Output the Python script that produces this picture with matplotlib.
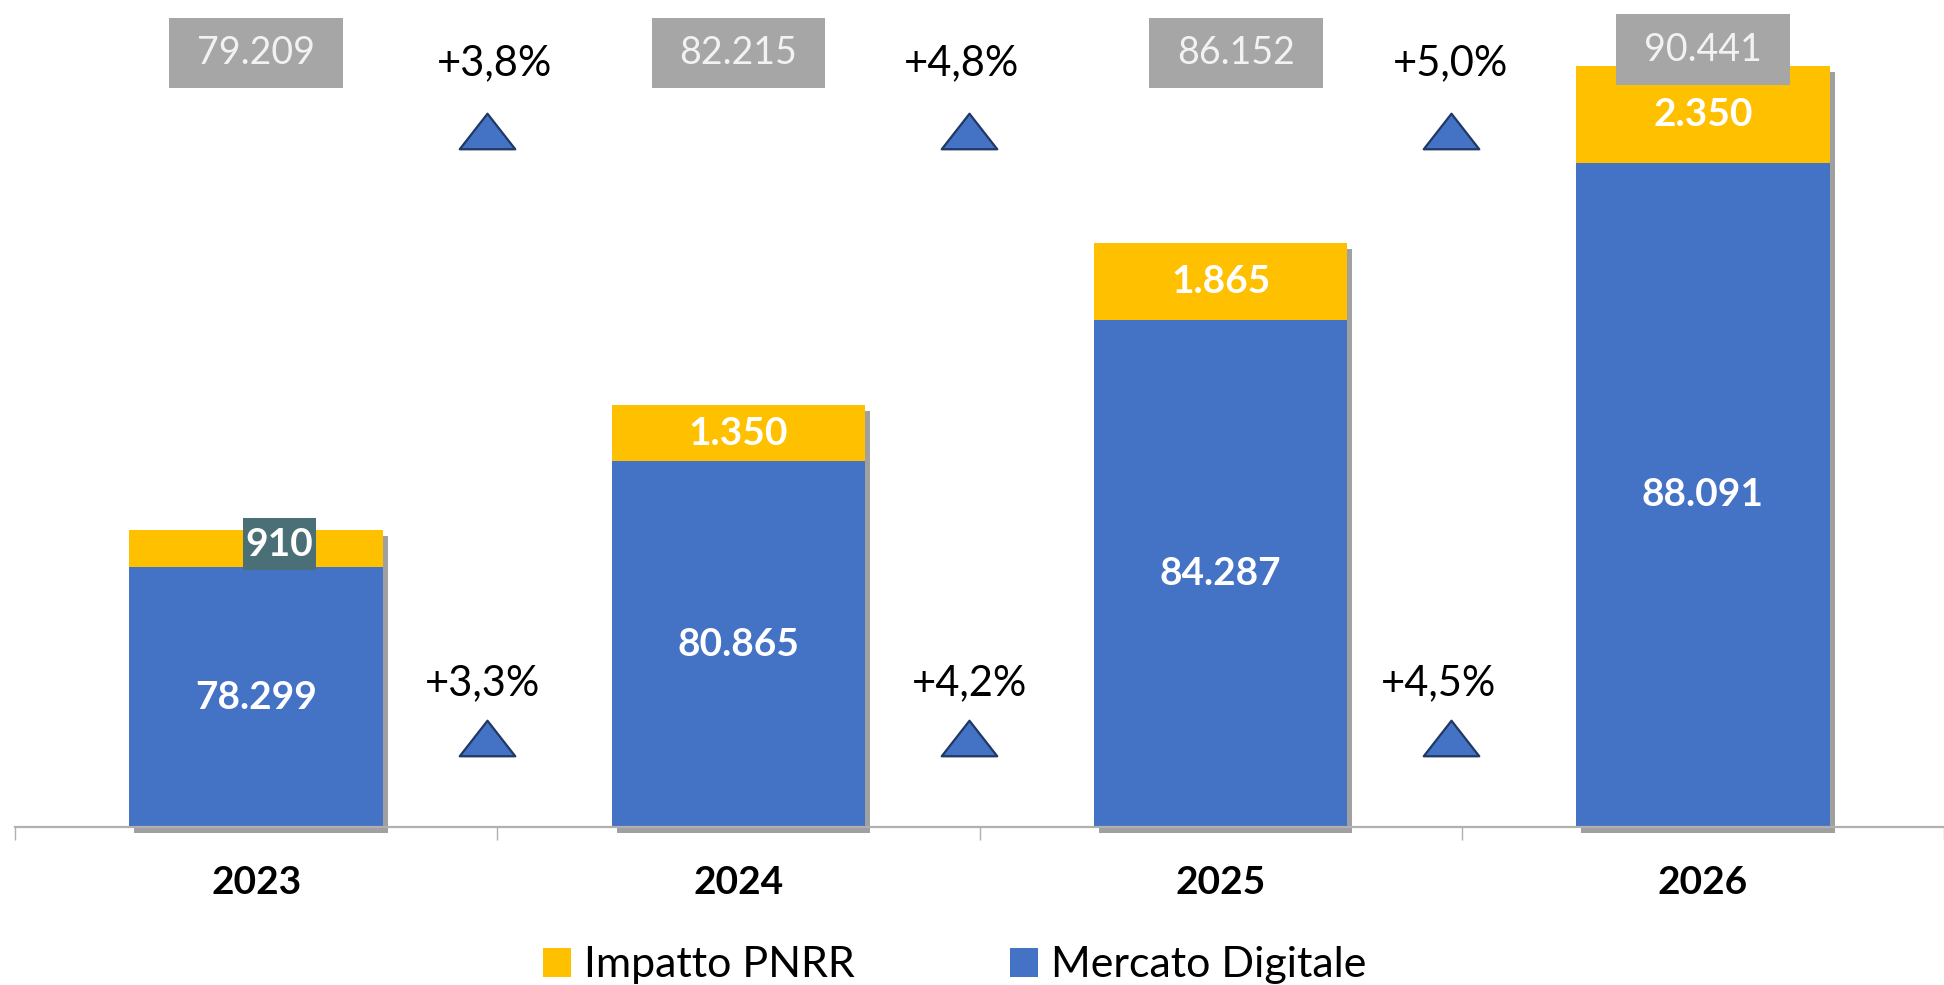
import matplotlib
matplotlib.use('Agg')
import matplotlib.pyplot as plt
import matplotlib.transforms as mtransforms
from matplotlib.path import Path
import numpy as np

plt.rcParams['font.family'] = ['Lato', 'DejaVu Sans']

# data
years = ['2023', '2024', '2025', '2026']
mercato_digitale = [78299, 80865, 84287, 88091]
impatto_pnrr = [910, 1350, 1865, 2350]
growth_total = ['+3,8%', '+4,8%', '+5,0%']
growth_market = ['+3,3%', '+4,2%', '+4,5%']

BLUE = '#4472C4'
YELLOW = '#FFC000'
GREY_BOX = '#A6A6A6'
SHADOW = '#A0A0A0'
Y_MIN = 72000


def fmt(v):
    return f'{v:,}'.replace(',', '.')


fig = plt.figure(figsize=(19.44, 9.85), dpi=100)
ax = fig.add_axes([15 / 1944, 1 - 827 / 985, 1 - 15 / 1944, 827 / 985])

x = np.arange(len(years))
mercato = np.array(mercato_digitale)
pnrr = np.array(impatto_pnrr)
totals = mercato + pnrr
width = 0.526

# shadow behind each stacked bar, shifted right/down by a few pixels
shadow = ax.bar(x, totals - Y_MIN, bottom=Y_MIN, width=width, color=SHADOW,
                zorder=1, clip_on=False)
offset = mtransforms.ScaledTranslation(5 / 100, -6 / 100, fig.dpi_scale_trans)
for p in shadow:
    p.set_transform(ax.transData + offset)

ax.bar(x, mercato - Y_MIN, bottom=Y_MIN, width=width, color=BLUE, zorder=2,
       label='Mercato Digitale')
ax.bar(x, pnrr, bottom=mercato, width=width, color=YELLOW, zorder=2,
       label='Impatto PNRR')

# segment labels
for i in range(len(years)):
    ax.text(x[i], (Y_MIN + mercato[i]) / 2, fmt(mercato[i]), ha='center', va='center',
            color='white', fontsize=28, fontweight='bold', zorder=4)
    ymid = mercato[i] + pnrr[i] / 2
    if i == 0:
        ax.annotate(fmt(pnrr[i]), (x[i], ymid), xytext=(17, 3), textcoords='offset points',
                    ha='center', va='center', color='white', fontsize=28, fontweight='bold',
                    zorder=4, bbox=dict(boxstyle='square,pad=0.07', fc='#4A6F77', ec='none',
                                        mutation_aspect=3.0))
    else:
        ax.text(x[i], ymid, fmt(pnrr[i]), ha='center', va='center',
                color='white', fontsize=28, fontweight='bold', zorder=4)

# totals in grey boxes at the top
trans_top = mtransforms.blended_transform_factory(ax.transData, ax.transAxes)
box_dx = [0, 0, 11, 0]
box_y = [0.936, 0.936, 0.936, 0.94]
for i in range(len(years)):
    ax.annotate(fmt(totals[i]), (x[i], box_y[i]), xycoords=trans_top,
                xytext=(box_dx[i], 0), textcoords='offset points',
                ha='center', va='center', color='#F2F2F2', fontsize=27, zorder=5,
                bbox=dict(boxstyle='square,pad=0.74', fc=GREY_BOX, ec='none',
                          mutation_aspect=0.62))

# growth markers
tri = Path([(-1, -0.64), (1, -0.64), (0, 0.64), (-1, -0.64)],
           [Path.MOVETO, Path.LINETO, Path.LINETO, Path.CLOSEPOLY])
top_dx = [0.017, -0.015, -0.002]
bottom_dx = [-0.008, 0.001, -0.027]
for i in range(len(growth_total)):
    xm = x[i] + 0.478
    ax.text(xm + top_dx[i], 0.923, growth_total[i], transform=trans_top, ha='center',
            va='center', fontsize=30, color='black')
    ax.text(xm + bottom_dx[i], 0.174, growth_market[i], transform=trans_top, ha='center',
            va='center', fontsize=30, color='black')
    for yy in (0.842, 0.108):
        ax.plot([xm], [yy], transform=trans_top, marker=tri, markersize=40,
                markerfacecolor=BLUE, markeredgecolor='#1F3864', markeredgewidth=1.6,
                linestyle='none', clip_on=False)

ax.set_xlim(-0.5, -0.5 + (1944 - 15) / 486.6)
ax.set_ylim(Y_MIN, 92040)

for s in ('top', 'right', 'left'):
    ax.spines[s].set_visible(False)
ax.spines['bottom'].set_color('#B0B0B0')
ax.spines['bottom'].set_linewidth(1.6)
ax.spines['bottom'].set_zorder(3)
ax.set_yticks([])
ax.set_xticks(x)
ax.set_xticklabels(years, fontsize=28, fontweight='bold')
ax.tick_params(axis='x', which='major', length=0, pad=27)
ax.set_xticks(np.arange(-0.5, len(years), 1.0), minor=True)
ax.tick_params(axis='x', which='minor', length=9.5, color='#B0B0B0', width=1)

handles, labels = ax.get_legend_handles_labels()
fig.legend(handles[::-1], labels[::-1], loc='center', bbox_to_anchor=(0.491, 0.02),
           ncol=2, frameon=False, fontsize=31, handlelength=0.65, handleheight=0.65,
           handletextpad=0.3, columnspacing=3.6)

fig.savefig('out.png', dpi=100)
